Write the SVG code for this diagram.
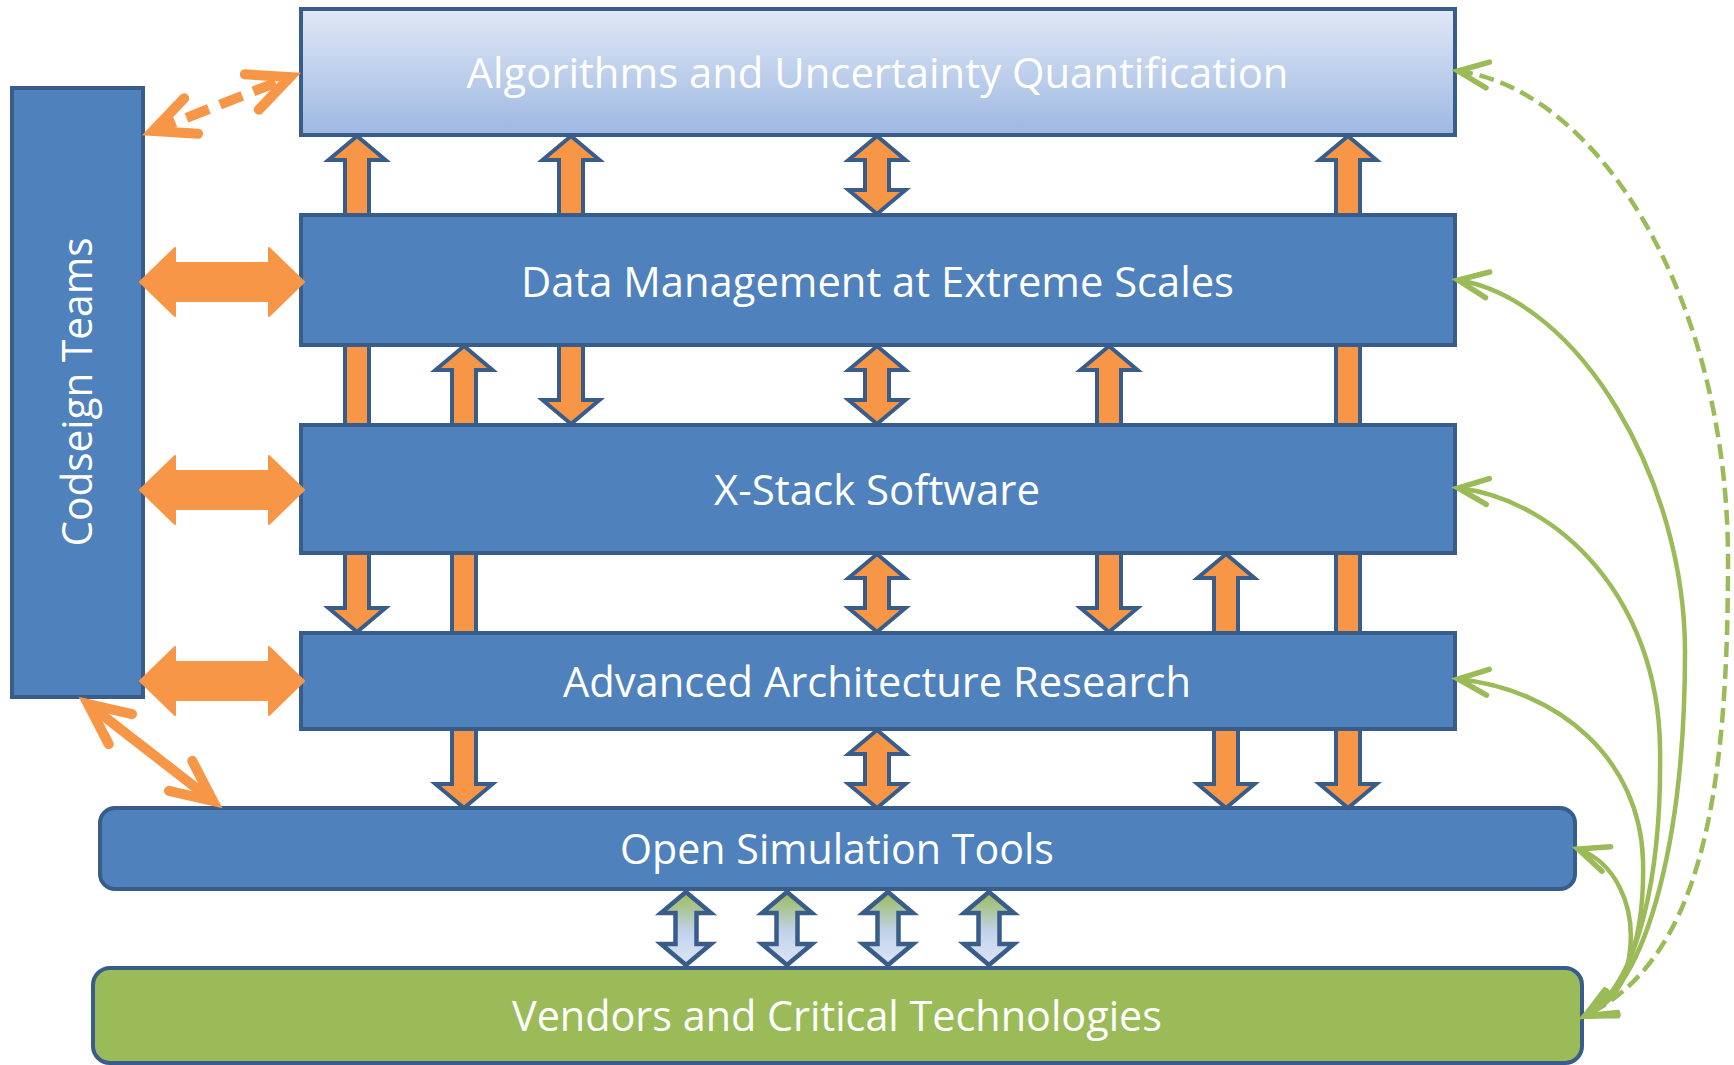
<svg xmlns="http://www.w3.org/2000/svg" xmlns:xlink="http://www.w3.org/1999/xlink" width="1734" height="1065" viewBox="0 0 1734 1065">
<style>
.box{fill:#4F81BD;stroke:#385D8A;stroke-width:4}
.lbl{font-family:"Open Sans","Liberation Sans",sans-serif;font-size:42px;fill:#FFFFFF;text-anchor:middle}
.va{fill:#F79646;stroke:#385D8A;stroke-width:4;stroke-linejoin:miter}
.ga{fill:url(#gArrow);stroke:#385D8A;stroke-width:4.5;stroke-linejoin:miter}
.ha{fill:#F79646;stroke:#F79646;stroke-width:2;stroke-linejoin:round}
.oline{fill:none;stroke:#F79646;stroke-width:10}
.gline{fill:none;stroke:#9BBB59;stroke-width:4.5}
</style>
<defs>
<linearGradient id="gAlg" x1="0" y1="0" x2="0" y2="1">
<stop offset="0" stop-color="#E1E8F5"/>
<stop offset="1" stop-color="#9DB8E3"/>
</linearGradient>
<linearGradient id="gArrow" x1="0" y1="0" x2="0" y2="1">
<stop offset="0" stop-color="#9BBB59"/>
<stop offset="0.55" stop-color="#C3D2EC"/>
<stop offset="1" stop-color="#DCE5F4"/>
</linearGradient>
<path id="up" class="va" d="M0,1 L28.5,25 L12,25 L12,80 L-12,80 L-12,25 L-28.5,25 Z"/>
<path id="down" class="va" d="M0,79 L28.5,55 L12,55 L12,0 L-12,0 L-12,55 L-28.5,55 Z"/>
<path id="dbl" class="va" d="M0,1 L28.5,25 L12,25 L12,55 L28.5,55 L0,79 L-28.5,55 L-12,55 L-12,25 L-28.5,25 Z"/>
<path id="bar" class="va" d="M-12,0 L12,0 L12,80 L-12,80 Z"/>
<path id="gdbl" class="ga" d="M0,3 L25,24 L10.5,24 L10.5,55 L25,55 L0,76 L-25,55 L-10.5,55 L-10.5,24 L-25,24 Z"/>
<path id="hdbl" class="ha" d="M140,0 L175,-34 L175,-19 L269,-19 L269,-34 L304,0 L269,34 L269,19 L175,19 L175,34 Z"/>
<marker id="oHead" markerUnits="userSpaceOnUse" markerWidth="70" markerHeight="70" viewBox="0 0 70 70" refX="55" refY="35" orient="auto-start-reverse" overflow="visible">
<path d="M14,16 L55,35 L14,54" fill="none" stroke="#F79646" stroke-width="10" stroke-linecap="round" stroke-linejoin="miter"/>
</marker>
<marker id="gHead" markerUnits="userSpaceOnUse" markerWidth="40" markerHeight="40" viewBox="0 0 40 40" refX="34" refY="20" orient="auto-start-reverse" overflow="visible">
<path d="M4,7 L34,20 L4,33" fill="none" stroke="#9BBB59" stroke-width="5.5" stroke-linecap="round" stroke-linejoin="miter"/>
</marker>
</defs>

<g id="node-algorithms">
<rect x="301" y="9" width="1154" height="126" fill="url(#gAlg)" stroke="#385D8A" stroke-width="4"/>
<text class="lbl" x="877.5" y="88" textLength="822" lengthAdjust="spacingAndGlyphs">Algorithms and Uncertainty Quantification</text>
</g>
<g id="node-data">
<rect class="box" x="301" y="215" width="1154" height="130"/>
<text class="lbl" x="877.5" y="297" textLength="713" lengthAdjust="spacingAndGlyphs">Data Management at Extreme Scales</text>
</g>
<g id="node-xstack">
<rect class="box" x="301" y="425" width="1154" height="128"/>
<text class="lbl" x="877" y="505" textLength="326" lengthAdjust="spacingAndGlyphs">X-Stack Software</text>
</g>
<g id="node-arch">
<rect class="box" x="301" y="633" width="1154" height="96"/>
<text class="lbl" x="877" y="697" textLength="628" lengthAdjust="spacingAndGlyphs">Advanced Architecture Research</text>
</g>
<g id="node-opensim">
<rect class="box" x="100" y="808" width="1475" height="81" rx="15" ry="15"/>
<text class="lbl" x="837" y="864" textLength="434" lengthAdjust="spacingAndGlyphs">Open Simulation Tools</text>
</g>
<g id="node-vendors">
<rect x="93" y="968" width="1489" height="95" rx="17" ry="17" fill="#9BBB59" stroke="#385D8A" stroke-width="4"/>
<text class="lbl" x="837" y="1031" textLength="650" lengthAdjust="spacingAndGlyphs">Vendors and Critical Technologies</text>
</g>
<g id="node-codesign">
<rect class="box" x="12" y="88" width="131" height="609"/>
<text class="lbl" transform="translate(92,392) rotate(-90)" x="0" y="0" textLength="309" lengthAdjust="spacingAndGlyphs">Codseign Teams</text>
</g>

<g id="connectors">
<use href="#up" x="357" y="135"/>
<use href="#up" x="571" y="135"/>
<use href="#dbl" x="877" y="135"/>
<use href="#up" x="1348" y="135"/>
<use href="#bar" x="357" y="345"/>
<use href="#up" x="464" y="345"/>
<use href="#down" x="571" y="345"/>
<use href="#dbl" x="877" y="345"/>
<use href="#up" x="1109" y="345"/>
<use href="#bar" x="1348" y="345"/>
<use href="#down" x="357" y="553"/>
<use href="#bar" x="464" y="553"/>
<use href="#dbl" x="877" y="553"/>
<use href="#down" x="1109" y="553"/>
<use href="#up" x="1226" y="553"/>
<use href="#bar" x="1348" y="553"/>
<use href="#down" x="464" y="729"/>
<use href="#dbl" x="877" y="729"/>
<use href="#down" x="1226" y="729"/>
<use href="#down" x="1348" y="729"/>
<use href="#gdbl" x="686" y="889"/>
<use href="#gdbl" x="787" y="889"/>
<use href="#gdbl" x="888" y="889"/>
<use href="#gdbl" x="989" y="889"/>
<use href="#hdbl" x="0" y="282"/>
<use href="#hdbl" x="0" y="490"/>
<use href="#hdbl" x="0" y="681"/>
<path class="oline" d="M153,131 L290,77" stroke-dasharray="24 12" marker-start="url(#oHead)" marker-end="url(#oHead)"/>
<path class="oline" d="M88,704 L213,801" marker-start="url(#oHead)" marker-end="url(#oHead)"/>
<path class="gline" d="M1458,71 C1600,90 1728,300 1728,560 C1728,800 1700,960 1585,1016" stroke-width="6" stroke-dasharray="15 7" marker-start="url(#gHead)" marker-end="url(#gHead)"/>
<path class="gline" d="M1458,280 C1580,300 1685,480 1685,652 C1685,830 1650,985 1585,1016" marker-start="url(#gHead)" marker-end="url(#gHead)"/>
<path class="gline" d="M1458,488 C1560,500 1658,600 1660,747 C1662,870 1640,985 1585,1016" marker-start="url(#gHead)" marker-end="url(#gHead)"/>
<path class="gline" d="M1458,679 C1560,690 1640,760 1643,860 C1645,940 1625,995 1585,1016" marker-start="url(#gHead)" marker-end="url(#gHead)"/>
<path class="gline" d="M1578,849 C1615,862 1635,905 1630,950 C1627,985 1610,1005 1585,1016" stroke-width="7" marker-start="url(#gHead)" marker-end="url(#gHead)"/>
</g>
</svg>
